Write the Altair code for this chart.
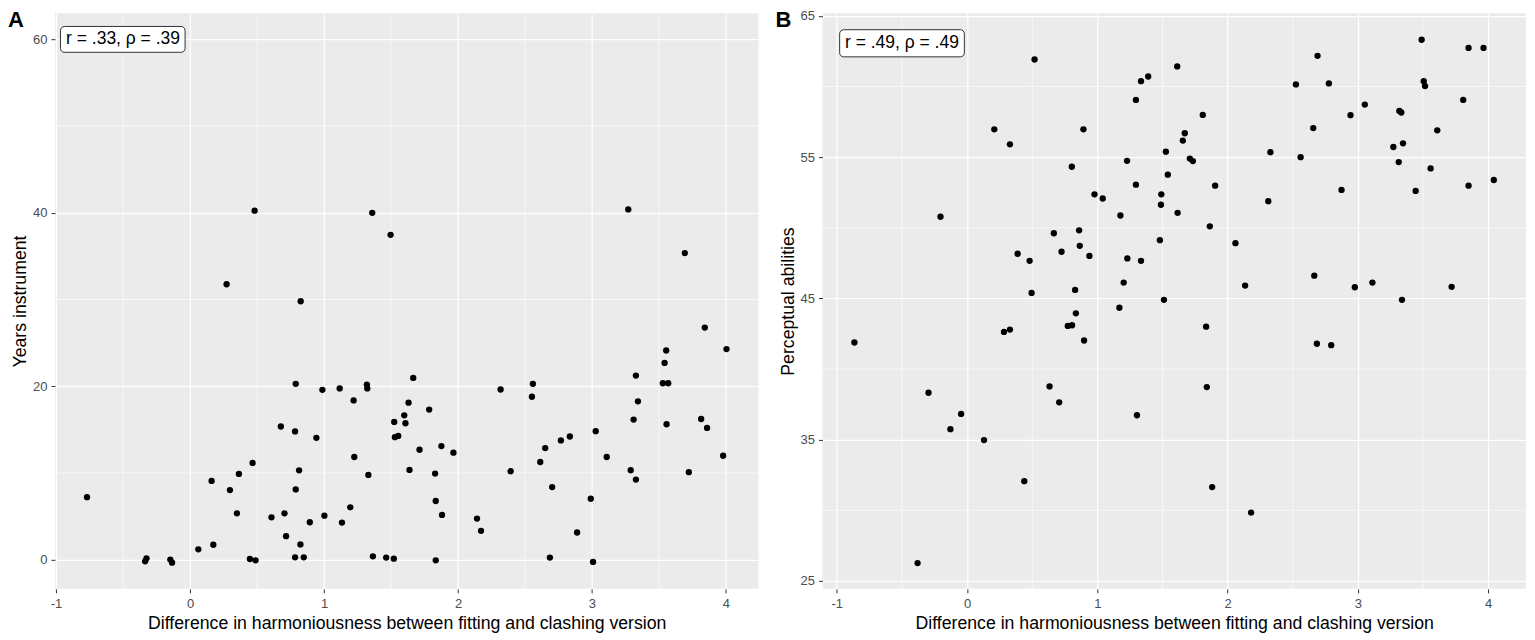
import altair as alt
import pandas as pd

# ---------------- data ----------------
A_X = [0.482, 1.36, 1.497, 0.273, 0.826, -0.769, -0.335, -0.325, -0.147, -0.134,
       0.062, 0.174, 0.161, 0.298, 0.35, 0.365, 0.467, 0.447, 0.489, 0.608,
       0.678, 0.705, 0.717, 0.784, 0.789, 0.789, 0.814, 0.824, 0.784, 0.849,
       0.894, 0.943, 0.988, 1.003, 1.117, 1.134, 1.196, 1.221, 1.226, 1.32,
       1.323, 1.331, 1.365, 1.464, 1.521, 1.524, 1.529, 1.554, 1.666, 1.631,
       1.785, 1.599, 1.608, 1.713, 1.876, 1.966, 1.638, 1.829, 1.834, 1.881,
       1.834, 2.142, 2.172, 2.393, 2.318, 2.559, 2.552, 2.614, 2.651, 2.768,
       2.835, 2.703, 2.889, 2.991, 3.028, 3.11, 2.686, 3.008, 3.271, 3.693,
       3.842, 4.004, 3.554, 3.542, 3.328, 3.529, 3.569, 3.343, 3.311, 3.557,
       3.815, 3.859, 3.979, 3.289, 3.328, 3.723]
A_Y = [40.24, 40.0, 37.46, 31.76, 29.8, 7.2, -0.2, 0.15, 0.0, -0.35,
       1.18, 1.71, 9.08, 8.02, 5.34, 9.88, 11.15, 0.07, -0.08, 4.88,
       15.35, 5.34, 2.7, 14.78, 20.27, 8.09, 10.3, 1.75, 0.26, 0.26,
       4.31, 14.04, 19.58, 5.07, 19.74, 4.27, 6.03, 18.36, 11.83, 20.19,
       19.74, 9.77, 0.38, 0.23, 0.11, 15.88, 14.12, 14.27, 20.96, 18.1,
       17.3, 16.64, 15.73, 12.67, 13.09, 12.33, 10.34, 9.92, 6.76, 5.15,
       -0.08, 4.73, 3.32, 10.19, 19.62, 20.27, 18.78, 11.26, 12.86, 13.75,
       14.2, 8.36, 3.13, 7.02, 14.81, 11.83, 0.23, -0.27, 40.39, 35.35,
       26.76, 24.28, 24.12, 22.68, 21.22, 20.34, 20.34, 18.25, 16.15, 15.61,
       16.22, 15.19, 11.98, 10.31, 9.23, 10.08]

B_X = [0.518, 0.209, 0.329, 0.893, 1.296, 1.335, 1.39, 1.228, 0.804, 1.296,
       0.978, 1.041, 1.177, -0.204, 0.666, 0.86, 0.725, 0.865, 0.939, 0.388,
       0.48, 1.23, 1.335, 1.202, 0.829, 0.495, 1.169, 0.835, 1.613, 1.809,
       1.671, 1.656, 1.526, 1.71, 1.733, 1.541, 1.904, 1.491, 1.488, 1.616,
       1.863, 1.48, 2.06, 2.134, 1.511, 2.328, 2.312, 2.524, 2.69, 2.777,
       2.657, 2.56, 2.874, 3.053, 2.943, 2.665, 2.976, 3.111, 3.489, 3.849,
       3.964, 3.505, 3.515, 3.808, 3.318, 3.333, 3.609, 3.272, 3.346, 3.313,
       3.558, 3.443, 3.849, 4.043, 3.719, 3.338, -0.865, 0.283, 0.329, 0.773,
       0.806, 0.898, -0.296, 0.633, 0.707, -0.046, -0.128, 0.13, 0.439, -0.38,
       1.304, 1.835, 2.685, 2.795, 1.84, 1.881, 2.18]
B_Y = [61.91, 56.97, 55.91, 56.97, 59.05, 60.38, 60.71, 54.74, 54.32, 53.05,
       52.37, 52.07, 50.87, 50.78, 49.61, 49.82, 48.3, 48.72, 48.01, 48.16,
       47.66, 47.83, 47.66, 46.12, 45.6, 45.39, 44.34, 43.94, 61.42, 57.99,
       56.69, 56.17, 55.39, 54.9, 54.72, 53.76, 52.98, 52.37, 51.63, 51.06,
       50.1, 49.12, 48.91, 45.91, 44.9, 55.35, 51.88, 60.15, 62.17, 60.22,
       57.06, 55.0, 52.68, 58.72, 57.97, 46.61, 45.79, 46.12, 63.31, 62.73,
       62.73, 60.38, 60.03, 59.05, 58.27, 58.16, 56.9, 55.72, 55.98, 54.65,
       54.2, 52.61, 52.98, 53.38, 45.82, 44.9, 41.88, 42.63, 42.79, 43.05,
       43.1, 42.02, 38.32, 38.77, 37.64, 36.82, 35.74, 34.97, 32.06, 26.26,
       36.73, 43.0, 41.79, 41.69, 38.72, 31.64, 29.84]

PANEL_LABELS = ["A", "B"]
Y_TITLES = ["Years instrument", "Perceptual abilities"]
X_TITLE = "Difference in harmoniousness between fitting and clashing version"
ANNOT_TEXT = ["r = .33, \u03c1 = .39", "r = .49, \u03c1 = .49"]
ANNOT_X = [-0.50, -0.50]
ANNOT_Y = [60.0, 63.06]
ANNOT_BOX_X = [(-0.967, -0.037), (-0.978, -0.021)]
ANNOT_BOX_Y = [(58.51, 61.49), (62.10, 64.02)]

X_DOMAINS = [(-1.008, 4.243), (-1.11, 4.29)]
Y_DOMAINS = [(-3.37, 63.02), (24.44, 65.19)]
X_TICKS = [-1, 0, 1, 2, 3, 4]
X_MINOR = [-0.5, 0.5, 1.5, 2.5, 3.5]
Y_TICKS = [[0, 20, 40, 60], [25, 35, 45, 55, 65]]
Y_MINOR = [[10, 30, 50], [30, 40, 50, 60]]

FONT = "Liberation Sans"
W, H = 704, 576


def panel(i, xs, ys):
    xscale = alt.Scale(domain=list(X_DOMAINS[i]), nice=False, zero=False)
    yscale = alt.Scale(domain=list(Y_DOMAINS[i]), nice=False, zero=False)
    xaxis = alt.Axis(values=X_TICKS, title=X_TITLE, labelExpr="'' + datum.value")
    yaxis = alt.Axis(values=Y_TICKS[i], title=Y_TITLES[i], labelExpr="'' + datum.value")

    def X(f):
        return alt.X(f, type="quantitative", scale=xscale, axis=xaxis)

    def Y(f):
        return alt.Y(f, type="quantitative", scale=yscale, axis=yaxis)

    xminor = alt.Chart(pd.DataFrame({"x": X_MINOR})).mark_rule(
        color="white", strokeWidth=0.6).encode(x=X("x"))
    yminor = alt.Chart(pd.DataFrame({"y": Y_MINOR[i]})).mark_rule(
        color="white", strokeWidth=0.6).encode(y=Y("y"))
    pts = alt.Chart(pd.DataFrame({"x": xs, "y": ys})).mark_circle(
        size=40, color="black", opacity=1).encode(x=X("x"), y=Y("y"))
    box = alt.Chart(pd.DataFrame({
        "x": [ANNOT_BOX_X[i][0]], "x2": [ANNOT_BOX_X[i][1]],
        "y": [ANNOT_BOX_Y[i][0]], "y2": [ANNOT_BOX_Y[i][1]]})).mark_rect(
        fill="white", stroke="black", strokeWidth=0.8, cornerRadius=4).encode(
        x=X("x"), x2="x2", y=Y("y"), y2="y2")
    txt = alt.Chart(pd.DataFrame({"x": [ANNOT_X[i]], "y": [ANNOT_Y[i]],
                                  "t": [ANNOT_TEXT[i]]})).mark_text(
        font=FONT, fontSize=17.5, color="black", align="center",
        baseline="middle").encode(x=X("x"), y=Y("y"), text="t:N")
    letter = alt.Chart(pd.DataFrame({"lab": [PANEL_LABELS[i]]})).mark_text(
        font=FONT, fontSize=22, fontWeight="bold", color="black",
        align="left", baseline="top").encode(
        x=alt.value(-47), y=alt.value(-3.5), text="lab:N")
    return alt.layer(xminor, yminor, pts, box, txt, letter).properties(width=W, height=H)


chart = alt.hconcat(panel(0, A_X, A_Y), panel(1, B_X, B_Y), spacing=16).properties(
    padding={"left": 0, "top": 0, "right": 0, "bottom": 0}
).configure_view(fill="#EBEBEB", stroke=None).configure_axis(
    labelFont=FONT, labelFontSize=13, labelColor="#4D4D4D",
    titleFont=FONT, titleFontSize=17.7, titleColor="black", titleFontWeight="normal",
    tickColor="#333333", tickSize=4, tickWidth=1, domain=False,
    grid=True, gridColor="white", gridWidth=1.2,
).configure_axisX(labelPadding=5, titlePadding=4).configure_axisY(
    labelPadding=4, titlePadding=3)

chart.save("out.html", embed_options={"renderer": "svg", "actions": False})
